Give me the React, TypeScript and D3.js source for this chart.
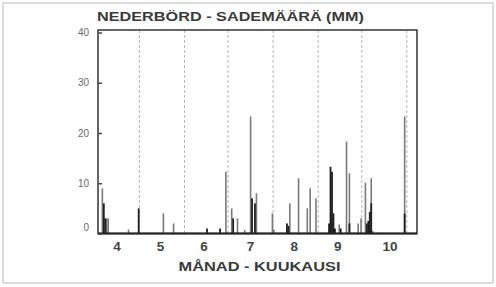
import { useEffect, useRef } from "react";
import * as d3 from "d3";

// Daily precipitation (mm). Year is not shown, any year works.
const YEAR = 1990;

// grey bars (drawn behind)
const greyDays = ["04-05", "04-08", "04-09", "04-23", "05-17", "05-24", "06-29", "07-03", "07-07", "07-12",
  "07-16", "07-20", "07-31", "08-01", "08-12", "08-18", "08-24", "08-26", "08-30", "09-15",
  "09-20", "09-22", "09-28", "09-30", "10-03", "10-07", "10-08", "10-30"];
const greyMm = [9, 3, 3, 0.8, 4, 2, 12.3, 5, 3, 0.7,
  23.3, 8, 4, 0.8, 6, 11, 5, 9, 7, 1.8,
  18.3, 12, 2, 3, 10.1, 11, 0.5, 23.3];

// black bars (drawn in front)
const blackDays = ["04-06", "04-07", "04-30", "06-16", "06-25", "07-04", "07-17", "07-19", "08-10", "08-11",
  "09-08", "09-09", "09-10", "09-11", "09-12", "09-16", "09-22", "10-04", "10-05", "10-06",
  "10-07", "10-30"];
const blackMm = [6, 3, 5, 1, 1, 3, 7, 6, 2, 1.5,
  2, 13.3, 12.3, 4, 1, 1, 2, 2, 2.5, 4.3,
  6, 4];

const monthLabels = ["4", "5", "6", "7", "8", "9", "10"];
const monthLabelDays = ["04-15", "05-15", "06-14", "07-16", "08-15", "09-14", "10-20"];
const yTicks = [0, 10, 20, 30, 40];

const title = "NEDERBÖRD - SADEMÄÄRÄ (MM)";
const xTitle = "MÅNAD - KUUKAUSI";

const parseDay = (s: string) => d3.timeParse("%Y-%m-%d %H")(`${YEAR}-${s} 12`) as Date;

export default function App() {
  const ref = useRef<SVGSVGElement>(null);

  const chartAttr = {
    width: 496,
    height: 287,
    left: 98,
    right: 417,
    top: 30,
    bottom: 233.5
  };

  useEffect(() => {
    const svg = d3.select(ref.current);
    svg.selectAll("*").remove();

    const x = d3.scaleTime()
      .domain([new Date(YEAR, 3, 2, 12), new Date(YEAR, 10, 8)])
      .range([chartAttr.left, chartAttr.right]);

    const y = d3.scaleLinear()
      .domain([0, 40.5])
      .range([chartAttr.bottom, chartAttr.top]);

    const font = "'Liberation Sans', Arial, sans-serif";

    // outer light frame
    svg.append("rect")
      .attr("x", 3).attr("y", 3)
      .attr("width", 490).attr("height", 280)
      .attr("fill", "none")
      .attr("stroke", "#cfcfcf")
      .attr("stroke-width", 1.5);

    // dashed month boundaries
    const boundaries = d3.timeMonth.range(new Date(YEAR, 4, 1), new Date(YEAR, 10, 2));
    svg.append("g")
      .selectAll("line")
      .data(boundaries)
      .enter()
      .append("line")
      .attr("x1", d => x(d)).attr("x2", d => x(d))
      .attr("y1", chartAttr.top).attr("y2", chartAttr.bottom)
      .attr("stroke", "#b5b5b5")
      .attr("stroke-width", 1)
      .attr("stroke-dasharray", "3,2");

    const greyData = greyDays.map((d, i) => [parseDay(d), greyMm[i]] as [Date, number]);
    const blackData = blackDays.map((d, i) => [parseDay(d), blackMm[i]] as [Date, number]);

    // grey bars
    const gw = 1.6;
    svg.append("g")
      .selectAll("rect")
      .data(greyData)
      .enter()
      .append("rect")
      .attr("fill", "#7a7a7a")
      .attr("x", d => x(d[0]) - gw / 2)
      .attr("width", gw)
      .attr("y", d => y(d[1]))
      .attr("height", d => y(0) - y(d[1]));

    // black bars
    const bw = 1.8;
    svg.append("g")
      .selectAll("rect")
      .data(blackData)
      .enter()
      .append("rect")
      .attr("fill", "#1e1e1e")
      .attr("x", d => x(d[0]) - bw / 2)
      .attr("width", bw)
      .attr("y", d => y(d[1]))
      .attr("height", d => y(0) - y(d[1]));

    // plot frame
    svg.append("rect")
      .attr("x", chartAttr.left).attr("y", chartAttr.top)
      .attr("width", chartAttr.right - chartAttr.left)
      .attr("height", chartAttr.bottom - chartAttr.top)
      .attr("fill", "none")
      .attr("stroke", "#333")
      .attr("stroke-width", 1.5);
    svg.append("line")
      .attr("x1", chartAttr.left).attr("x2", chartAttr.right)
      .attr("y1", chartAttr.bottom).attr("y2", chartAttr.bottom)
      .attr("stroke", "#222")
      .attr("stroke-width", 2);

    // y axis
    const yAxis = d3.axisLeft(y).tickValues(yTicks).tickSize(-4).tickPadding(9);
    const yg = svg.append("g")
      .attr("transform", `translate(${chartAttr.left}, 0)`)
      .call(yAxis);
    yg.select(".domain").remove();
    yg.selectAll(".tick line").attr("stroke", "#444").attr("stroke-width", 1.5);
    yg.selectAll(".tick text")
      .attr("fill", "#6a6a6a")
      .style("font-family", font)
      .style("font-size", "10px")
      .attr("dy", (d: any) => (d === 0 ? "-0.3em" : "0.32em"));

    // month labels
    svg.append("g")
      .selectAll("text")
      .data(monthLabels)
      .enter()
      .append("text")
      .attr("x", (d, i) => x(parseDay(monthLabelDays[i])))
      .attr("y", 250.5)
      .attr("text-anchor", "middle")
      .attr("fill", "#444")
      .style("font-family", font)
      .style("font-size", "13.5px")
      .style("font-weight", "bold")
      .text(d => d);

    // title
    svg.append("text")
      .attr("x", 97)
      .attr("y", 21)
      .attr("textLength", 267)
      .attr("lengthAdjust", "spacingAndGlyphs")
      .attr("fill", "#3a3a3a")
      .style("font-family", font)
      .style("font-size", "12.8px")
      .style("font-weight", "bold")
      .text(title);

    // x axis title
    svg.append("text")
      .attr("x", 178.5)
      .attr("y", 270.5)
      .attr("textLength", 162)
      .attr("lengthAdjust", "spacingAndGlyphs")
      .attr("fill", "#3a3a3a")
      .style("font-family", font)
      .style("font-size", "12.8px")
      .style("font-weight", "bold")
      .text(xTitle);
  }, []);

  return (
    <div style={{ position: "absolute", left: 0, top: 0 }}>
      <svg ref={ref} width={chartAttr.width} height={chartAttr.height} style={{ display: "block", background: "#fff" }} />
    </div>
  );
}
